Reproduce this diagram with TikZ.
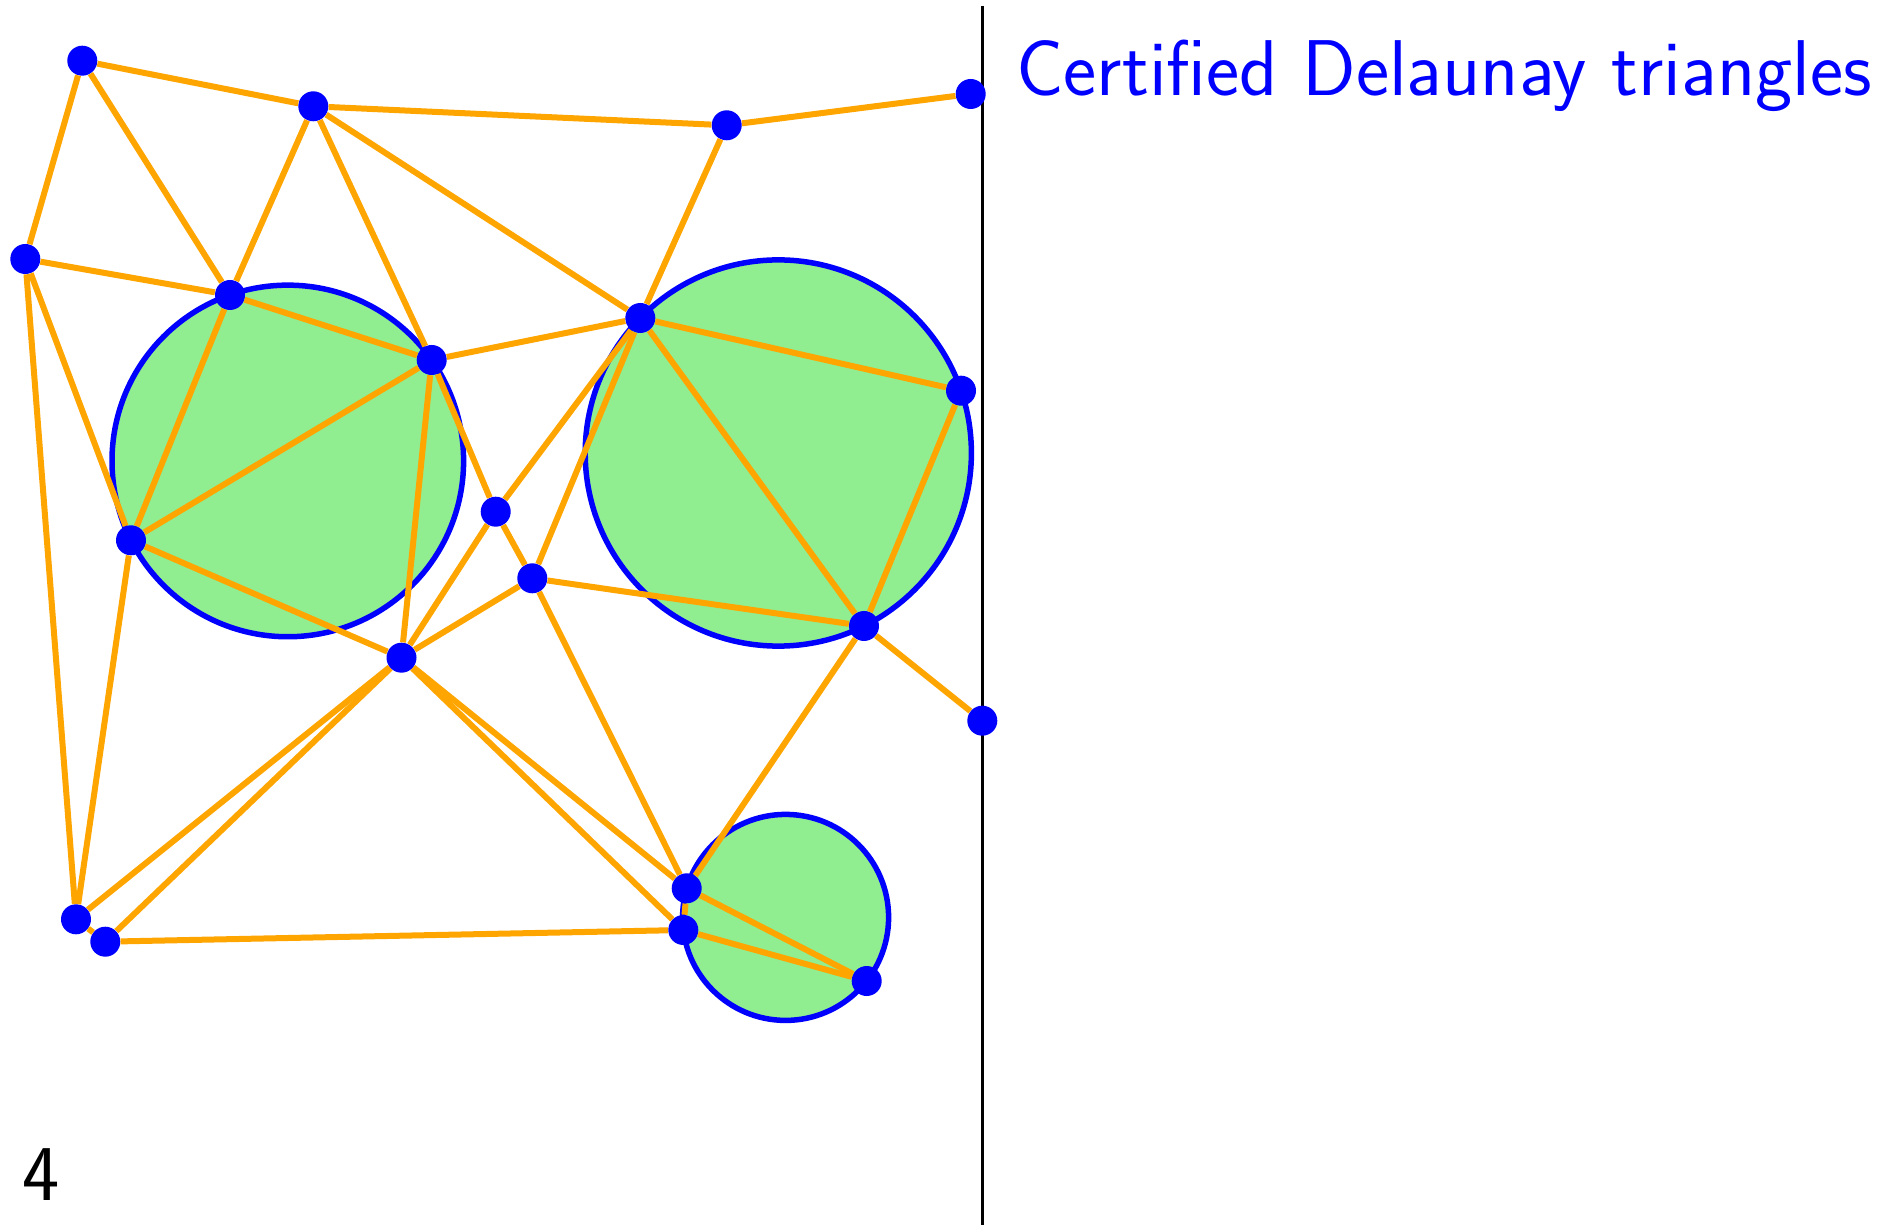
\documentclass[tikz,border=0pt]{standalone}
\usepackage{xcolor}
\usepackage{tikz}
\definecolor{dlorange}{RGB}{255,165,0}
\definecolor{dlgreen}{RGB}{144,238,144}
\definecolor{dlblue}{RGB}{0,0,255}
\tikzset{
  dledge/.style={line width=0.12cm, draw=dlorange},
  dldot/.style={circle, fill=dlblue, inner sep=0pt, minimum size=0.6cm},
  dldisk/.style={fill=dlgreen, draw=dlblue, line width=0.11cm},
  dlsep/.style={line width=0.06cm, draw=black},
  dltext/.style={inner sep=0pt, anchor=base west, font=\sffamily\fontsize{45}{54}\selectfont},
}
\begin{document}
\begin{tikzpicture}
\useasboundingbox (0,0) rectangle (37.62,24.5);
% certified circumcircles
\draw[dldisk] (5.756,15.281) circle (3.516);
\draw[dldisk] (15.566,15.440) circle (3.862);
\draw[dldisk] (15.712,6.152) circle (2.060);
% separator
\coordinate (sept) at (19.646,24.380);
\coordinate (sepb) at (19.646,0);
\draw[dlsep] (sept) -- (sepb);
% vertices
\node[dldot] (v1) at (1.646,23.286) {};
\node[dldot] (v2) at (6.266,22.374) {};
\node[dldot] (v3) at (14.534,21.994) {};
\node[dldot] (v4) at (19.414,22.620) {};
\node[dldot] (v5) at (0.506,19.320) {};
\node[dldot] (v6) at (4.600,18.600) {};
\node[dldot] (v7) at (8.634,17.300) {};
\node[dldot] (v8) at (12.806,18.140) {};
\node[dldot] (v9) at (19.220,16.686) {};
\node[dldot] (v10) at (2.620,13.694) {};
\node[dldot] (v11) at (9.914,14.266) {};
\node[dldot] (v12) at (10.646,12.934) {};
\node[dldot] (v13) at (8.030,11.346) {};
\node[dldot] (v14) at (17.280,11.980) {};
\node[dldot] (v15) at (19.646,10.086) {};
\node[dldot] (v16) at (13.734,6.734) {};
\node[dldot] (v17) at (13.666,5.900) {};
\node[dldot] (v18) at (17.334,4.880) {};
\node[dldot] (v19) at (1.520,6.114) {};
\node[dldot] (v20) at (2.106,5.666) {};
% triangulation
\draw[dledge] (v1) -- (v2);
\draw[dledge] (v1) -- (v5);
\draw[dledge] (v1) -- (v6);
\draw[dledge] (v2) -- (v3);
\draw[dledge] (v2) -- (v6);
\draw[dledge] (v2) -- (v7);
\draw[dledge] (v2) -- (v8);
\draw[dledge] (v3) -- (v4);
\draw[dledge] (v3) -- (v8);
\draw[dledge] (v5) -- (v6);
\draw[dledge] (v5) -- (v10);
\draw[dledge] (v5) -- (v19);
\draw[dledge] (v6) -- (v7);
\draw[dledge] (v6) -- (v10);
\draw[dledge] (v7) -- (v8);
\draw[dledge] (v7) -- (v10);
\draw[dledge] (v7) -- (v11);
\draw[dledge] (v7) -- (v13);
\draw[dledge] (v8) -- (v9);
\draw[dledge] (v8) -- (v11);
\draw[dledge] (v8) -- (v12);
\draw[dledge] (v8) -- (v14);
\draw[dledge] (v9) -- (v14);
\draw[dledge] (v10) -- (v13);
\draw[dledge] (v10) -- (v19);
\draw[dledge] (v11) -- (v12);
\draw[dledge] (v11) -- (v13);
\draw[dledge] (v12) -- (v13);
\draw[dledge] (v12) -- (v14);
\draw[dledge] (v12) -- (v16);
\draw[dledge] (v13) -- (v16);
\draw[dledge] (v13) -- (v17);
\draw[dledge] (v13) -- (v19);
\draw[dledge] (v13) -- (v20);
\draw[dledge] (v14) -- (v15);
\draw[dledge] (v14) -- (v16);
\draw[dledge] (v16) -- (v17);
\draw[dledge] (v16) -- (v18);
\draw[dledge] (v17) -- (v18);
\draw[dledge] (v17) -- (v20);
\draw[dledge] (v19) -- (v20);
% labels
\node[dltext, text=dlblue] (title) at (20.32,22.58) {Certified Delaunay triangles};
\node[dltext] (pagenum) at (0.44,0.50) {4};
\end{tikzpicture}
\end{document}
